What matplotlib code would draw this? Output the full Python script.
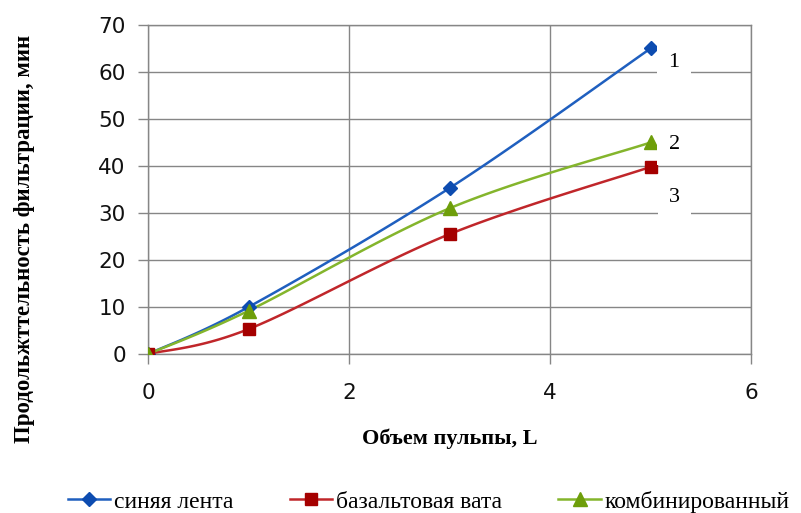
import numpy as np
import matplotlib
matplotlib.use("Agg")
import matplotlib.pyplot as plt
from matplotlib.lines import Line2D

x_vals = [0, 1, 3, 5]
blue_vals = [0, 10, 35.3, 65]
red_vals = [0, 5.3, 25.5, 39.8]
green_vals = [0, 9.2, 31, 45]
series_names = ["синяя лента", "базальтовая вата", "комбинированный"]
curve_labels = ["1", "2", "3"]
curve_label_y = [62.0, 44.5, 33.4]
x_ticks = [0, 2, 4, 6]
y_ticks = [0, 10, 20, 30, 40, 50, 60, 70]
xlabel = "Объем пульпы, L"
ylabel = "Продольжттельность фильтрации, мин"


def smooth(xs, ys, n=30):
    P = np.column_stack([xs, ys]).astype(float)
    Pext = np.vstack([P[0], P, P[-1]])
    out = []
    for i in range(len(P) - 1):
        p0, p1, p2, p3 = Pext[i], Pext[i + 1], Pext[i + 2], Pext[i + 3]
        c1 = p1 + (p2 - p0) / 6.0
        c2 = p2 - (p3 - p1) / 6.0
        t = np.linspace(0, 1, n)[:, None]
        seg = ((1 - t) ** 3) * p1 + 3 * ((1 - t) ** 2) * t * c1 + 3 * (1 - t) * t ** 2 * c2 + t ** 3 * p2
        out.append(seg if i == 0 else seg[1:])
    s = np.vstack(out)
    return s[:, 0], s[:, 1]


fig = plt.figure(figsize=(8.01, 5.13), dpi=100)
ax = fig.add_axes([0.1848, 0.3099, 0.7528, 0.6414])

grid_c = "#868686"
series = [
    (blue_vals, "#1F5FBF", "#0D4CB0", "D", 7),
    (red_vals, "#C0262A", "#A50000", "s", 9),
    (green_vals, "#84B52C", "#6E9E0A", "^", 10),
]
handles = []
for (vals, lc, mc, mk, ms), name in zip(series, series_names):
    sx, sy = smooth(x_vals, vals)
    ax.plot(sx, sy, color=lc, lw=1.8, zorder=3)
    ax.plot(x_vals, vals, ls="none", marker=mk, ms=ms, color=mc, zorder=4)
    handles.append(Line2D([], [], color=lc, lw=1.8, marker=mk, ms=ms, mfc=mc, mec=mc))

ax.set_xlim(0, 6)
ax.set_ylim(0, 70)
ax.set_xticks(x_ticks)
ax.set_yticks(y_ticks)
ax.grid(True, color=grid_c, lw=1.0, zorder=0)
for s in ax.spines.values():
    s.set_color(grid_c)
    s.set_linewidth(1.0)
ax.tick_params(axis="both", color=grid_c, length=7, width=1.0, labelsize=15.5,
               labelcolor="#111111")
ax.tick_params(axis="y", pad=9)
ax.tick_params(axis="x", pad=14)
for lab in ax.get_xticklabels() + ax.get_yticklabels():
    lab.set_family("DejaVu Sans")

for lab, yv in zip(curve_labels, curve_label_y):
    ax.text(5.235, yv, lab, ha="center", va="center", fontsize=16,
            family="Liberation Serif", zorder=5,
            bbox=dict(facecolor="white", edgecolor="none", pad=8))

ax.set_xlabel(xlabel, family="Liberation Serif", fontweight="bold", fontsize=16, labelpad=18)
fig.text(0.030, 0.535, ylabel, rotation=90, ha="center", va="center",
         family="Liberation Serif", fontweight="bold", fontsize=16.5)

fig.legend(handles, series_names, loc="center", bbox_to_anchor=(0.535, 0.022), ncol=3,
           frameon=False, prop={"family": "Liberation Serif", "size": 17},
           handlelength=1.8, handletextpad=0.15, columnspacing=2.4)

fig.savefig("out.png", dpi=100)
